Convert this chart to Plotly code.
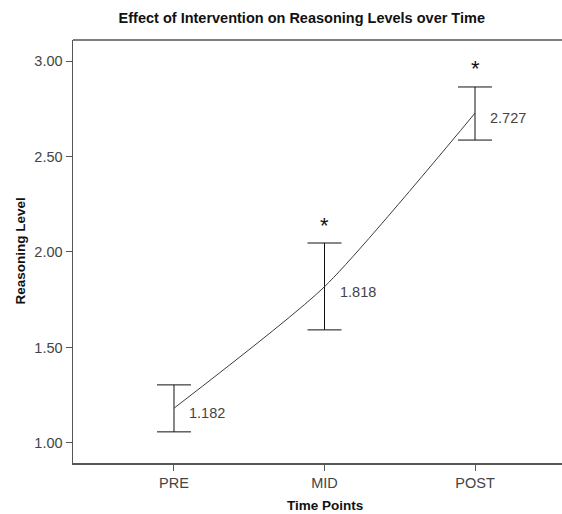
import plotly.graph_objects as go

time_points = ["PRE", "MID", "POST"]
means = [1.182, 1.818, 2.727]
upper = [1.304, 2.047, 2.864]
lower = [1.058, 1.592, 2.586]
mean_labels = ["1.182", "1.818", "2.727"]
significant = [False, True, True]
y_ticks = [1.0, 1.5, 2.0, 2.5, 3.0]
y_tick_labels = ["1.00", "1.50", "2.00", "2.50", "3.00"]

err_plus = [u - m for u, m in zip(upper, means)]
err_minus = [m - l for m, l in zip(means, lower)]
xi = list(range(len(time_points)))

font_family = "Liberation Sans, Arial, sans-serif"

fig = go.Figure()
fig.add_trace(go.Scatter(
    x=xi, y=means, mode="lines",
    line=dict(color="#3c3c3c", width=1, shape="spline", smoothing=0.6),
    error_y=dict(type="data", symmetric=False, array=err_plus, arrayminus=err_minus,
                 color="#111111", thickness=1, width=17),
    hoverinfo="skip", showlegend=False,
))

annotations = []
for i, (m, lab) in enumerate(zip(means, mean_labels)):
    annotations.append(dict(x=i, y=m, xref="x", yref="y", text=lab, showarrow=False,
                            xanchor="left", yanchor="middle", xshift=13, yshift=-5,
                            font=dict(family=font_family, size=14.5, color="#444444")))
for i, (s, u) in enumerate(zip(significant, upper)):
    if s:
        annotations.append(dict(x=i, y=u, xref="x", yref="y", text="*", showarrow=False,
                                xanchor="center", yanchor="middle", yshift=18,
                                font=dict(family=font_family, size=22, color="#111111")))
annotations.append(dict(x=0, y=0.5, xref="paper", yref="paper", text="<b>Reasoning Level</b>",
                        showarrow=False, textangle=-90, xanchor="center", yanchor="middle",
                        xshift=-53,
                        font=dict(family=font_family, size=13.5, color="#111111")))
annotations.append(dict(x=1, y=0, xref="x", yref="paper", text="<b>Time Points</b>",
                        showarrow=False, xanchor="center", yanchor="middle", yshift=-42,
                        font=dict(family=font_family, size=13.5, color="#111111")))

fig.update_layout(
    width=562, height=514,
    margin=dict(l=73, r=0, t=40, b=51),
    paper_bgcolor="white", plot_bgcolor="white",
    title=dict(text="<b>Effect of Intervention on Reasoning Levels over Time</b>",
               x=0.537, xanchor="center", y=1 - 18 / 514, yanchor="middle",
               font=dict(family=font_family, size=14.5, color="#111111")),
    xaxis=dict(range=[-0.671, 2.578], tickmode="array", tickvals=xi, ticktext=time_points,
               showgrid=False, zeroline=False, showline=True, linecolor="#555555", linewidth=1.5,
               mirror=False, ticks="outside", ticklen=6, tickcolor="#555555",
               tickfont=dict(family=font_family, size=14.5, color="#444444")),
    yaxis=dict(range=[0.895, 3.11], tickmode="array", tickvals=y_ticks, ticktext=y_tick_labels,
               showgrid=False, zeroline=False, showline=True, linecolor="#555555", linewidth=1.5,
               mirror=False, ticks="outside", ticklen=6, tickcolor="#555555",
               tickfont=dict(family=font_family, size=14.5, color="#444444")),
    shapes=[dict(type="line", xref="paper", yref="paper", x0=0, x1=1, y0=1, y1=1,
                 line=dict(color="#555555", width=1.5))],
    annotations=annotations,
)

fig.write_html("out.html", config={"displayModeBar": False, "staticPlot": True},
               post_script="document.body.style.margin='0';document.body.style.overflow='hidden';")
